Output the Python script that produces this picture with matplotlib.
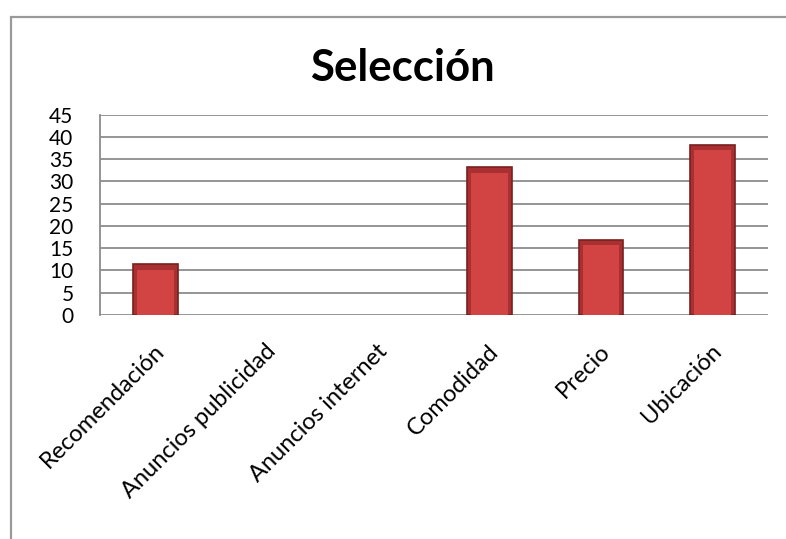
import matplotlib.pyplot as plt
import matplotlib.transforms as mtransforms
from matplotlib.patches import Rectangle
import numpy as np

# ------------------------------------------------------------
# DATA
# ------------------------------------------------------------
categories = ['Recomendación', 'Anuncios publicidad', 'Anuncios internet',
              'Comodidad', 'Precio', 'Ubicación']
values = [11.4, 0, 0, 33.3, 16.9, 38.3]
y_ticks = [0, 5, 10, 15, 20, 25, 30, 35, 40, 45]

plt.rcParams['font.family'] = ['Lato', 'DejaVu Sans']

fig = plt.figure(figsize=(7.86, 5.39), dpi=100)
ax = fig.add_axes([0.127, 0.416, 0.85, 0.371])

# outer chart frame (cropped on right/bottom)
fig.patches.append(Rectangle((10.5 / 786, -0.1), 1.2, 1 - 16.5 / 539 + 0.1,
                             transform=fig.transFigure, fill=False,
                             edgecolor='#9a9a9a', linewidth=1.6))

x = np.arange(len(categories))
vals = np.array(values)
lw = [1.2 if v > 0 else 0 for v in values]
# outer bar (darker bevel sides)
ax.bar(x, vals, width=0.4, color='#a83030', edgecolor='#7a2020',
       linewidth=lw, zorder=3)
# inner face, lighter, inset to suggest the bevel
inner = np.where(vals > 0, vals - 1.3, 0)
ax.bar(x, inner, width=0.33, color='#d24343', edgecolor='none', zorder=4)

ax.set_xlim(-0.5, len(categories) - 0.5)
ax.set_ylim(0, 45)
ax.set_yticks(y_ticks)
ax.set_yticklabels([str(t) for t in y_ticks], fontsize=15)
ax.set_xticks(x)
ax.set_xticklabels(categories, rotation=45, ha='right', va='center',
                   rotation_mode='anchor', fontsize=17)
ax.tick_params(axis='x', length=0, pad=24)
ax.tick_params(axis='y', length=0, pad=19)
# nudge x labels a bit to the right like the original
offset = mtransforms.ScaledTranslation(6 / 100, 0, fig.dpi_scale_trans)
for lbl in ax.get_xticklabels():
    lbl.set_transform(lbl.get_transform() + offset)

ax.grid(axis='y', color='#8c8c8c', linewidth=1.3, zorder=0)
for s in ['top', 'right', 'bottom']:
    ax.spines[s].set_visible(False)
ax.spines['left'].set_color('#8c8c8c')
ax.spines['left'].set_linewidth(1.3)

fig.text(0.512, 0.873, 'Selección', ha='center', va='center',
         fontsize=31.5, fontweight='bold')

plt.savefig('out.png', dpi=100)
